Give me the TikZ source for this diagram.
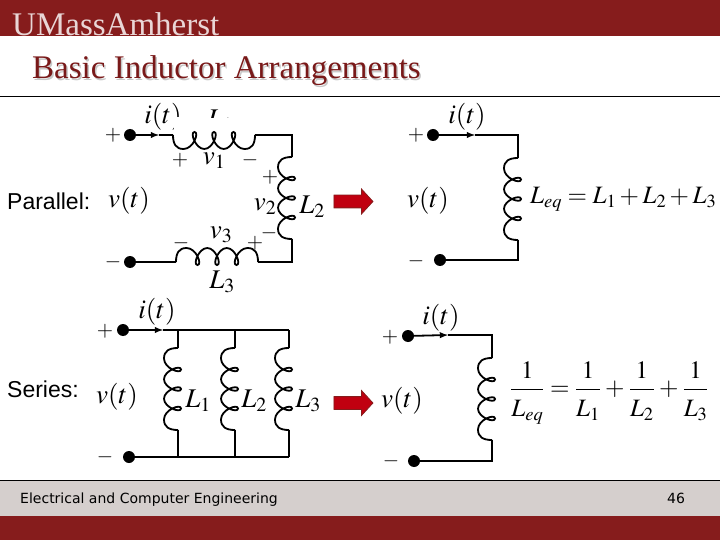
\documentclass[tikz,border=0pt]{standalone}
\usepackage{fontspec}
\usepackage{mathptmx}
\usepackage{xcolor}
\setmainfont{Liberation Serif}
\newfontfamily\armfont{Liberation Sans}
\newfontfamily\footfont{DejaVu Sans}
\usetikzlibrary{arrows,shapes.arrows}
\definecolor{umred}{HTML}{861C1C}
\definecolor{umgrey}{HTML}{D5CFCD}
\definecolor{arrred}{HTML}{C00010}
\newcommand{\rec}[1]{\frac{1}{\rule{0pt}{24pt}#1}}
\tikzset{
	wire/.style={line width=1.8pt},
	term/.style={circle,fill=black,inner sep=0pt,minimum size=12pt},
	lab/.style={inner sep=0pt,font=\fontsize{27}{30}\selectfont},
	eqn/.style={inner sep=0pt,anchor=west,font=\fontsize{25}{28}\selectfont},
	sgn/.style={inner sep=0pt,font=\fontsize{21}{24}\selectfont},
	kind/.style={inner sep=0pt,anchor=west,font=\armfont\fontsize{23}{26}\selectfont},
	foottext/.style={inner sep=0pt,anchor=base west,font=\footfont\fontsize{14}{16}\selectfont},
	titletext/.style={inner sep=0pt,anchor=base west,font=\fontsize{33}{36}\selectfont},
	bigarrow/.style={single arrow,draw=umred,fill=arrred,inner sep=0pt,inner ysep=6pt,line width=.8pt,
		minimum height=39pt,single arrow head extend=6pt,single arrow tip angle=95},
	coil/.pic={
		\draw[wire] (0,0) .. controls (0,9) and (3,14) .. (10.5,14)
			.. controls (20.5,14) and (26.5,-3) .. (21.5,-3)
			.. controls (16.5,-3) and (22.5,14) .. (31.25,14)
			.. controls (40,14) and (46,-3) .. (41,-3)
			.. controls (36,-3) and (42,14) .. (50.75,14)
			.. controls (59.5,14) and (65.5,-3) .. (60.5,-3)
			.. controls (55.5,-3) and (61.5,14) .. (71.5,14)
			.. controls (79,14) and (82,9) .. (82,0);
	}
}
\begin{document}
\begin{tikzpicture}[x=1pt,y=-1pt]
		\useasboundingbox (0,0) rectangle (720,540);
		% header and footer
		\fill[umred] (0,0) rectangle (720,36);
		\begin{scope}
			\clip (0,0) rectangle (720,36);
			\node[titletext,text=white!82!umred] (logo) at (12,36) {UMassAmherst};
		\end{scope}
		\node[titletext,text=black!22] (titleshade) at (33.5,80.5) {Basic Inductor Arrangements};
		\node[titletext,text=umred!90!black] (title) at (32,79) {Basic Inductor Arrangements};
		\draw[line width=.8pt] (0,96) -- (720,96);
		\fill[umgrey] (0,480) rectangle (720,516);
		\fill[umred] (0,516) rectangle (720,540);
		\draw[line width=.8pt] (0,480) -- (720,480);
		\node[foottext] (foot) at (20,503) {Electrical and Computer Engineering};
		\node[foottext] (page) at (667,503) {46};
		%
		\node[kind] (par) at (7,201) {Parallel:};
		\node[kind] (ser) at (7,389) {Series:};
		\node[bigarrow] (arrA) at (350.5,201.5) {};
		\node[bigarrow] (arrB) at (350.5,403) {};
		% series circuit, top left
		\node[term] (Ap) at (130,135) {};
		\node[term] (Am) at (130,262) {};
		\coordinate (Aa) at (159,135);
		\coordinate (A1) at (173,135);
		\coordinate (A1') at (255,135);
		\coordinate (Ac) at (292,135);
		\coordinate (A2) at (292,157);
		\coordinate (A2') at (292,239);
		\coordinate (Ad) at (292,262);
		\coordinate (A3) at (258,262);
		\coordinate (A3') at (176,262);
		\draw[wire,-latex] (Ap) -- (Aa);
		\draw[wire] (Aa) -- (A1);
		\draw[wire] (A1') -- (Ac) -- (A2);
		\draw[wire] (A2') -- (Ad) -- (A3);
		\draw[wire] (A3') -- (Am);
		\pic at (A1) {coil};
		\pic[rotate=-90] at (A2) {coil};
		\pic[rotate=180] at (A3) {coil};
		\node[sgn] (Aps) at (113,135) {$+$};
		\node[sgn] (Ams) at (113,262) {$-$};
		\node[lab] (Ai) at (163,117) {$i(t)$};
		\fill[white] (174,117) rectangle (186,130);
		\node[lab] (Av) at (129,201) {$v(t)$};
		\begin{scope}
			\clip (200,105) rectangle (232,118);
			\node[lab] (AL1) at (220,121) {$L_1$};
		\end{scope}
		\node[sgn] (v1p) at (180,160) {$+$};
		\node[lab] (v1) at (214,161) {$v_1$};
		\node[sgn] (v1m) at (250,160) {$-$};
		\node[sgn] (v2p) at (270,177) {$+$};
		\node[lab] (v2) at (265,207) {$v_2$};
		\node[sgn] (v2m) at (269,233) {$-$};
		\node[lab] (AL2) at (312,207) {$L_2$};
		\node[sgn] (v3m) at (181,243) {$-$};
		\node[lab] (v3) at (221,235) {$v_3$};
		\node[sgn] (v3p) at (255,243) {$+$};
		\node[lab] (AL3) at (222,282) {$L_3$};
		% its equivalent
		\node[term] (Bp) at (433,135) {};
		\node[term] (Bm) at (440,260) {};
		\coordinate (Ba) at (475,135);
		\coordinate (Bc) at (518,135);
		\coordinate (B1) at (518,158);
		\coordinate (B1') at (518,240);
		\coordinate (Bd) at (518,260);
		\draw[wire,-latex] (Bp) -- (Ba);
		\draw[wire] (Ba) -- (Bc) -- (B1);
		\draw[wire] (B1') -- (Bd) -- (Bm);
		\pic[rotate=-90] at (B1) {coil};
		\node[sgn] (Bps) at (416,135) {$+$};
		\node[sgn] (Bms) at (416,261) {$-$};
		\node[lab] (Bi) at (467,117) {$i(t)$};
		\node[lab] (Bv) at (428,201) {$v(t)$};
		\node[eqn] (Beq) at (530,199) {$L_{eq}=L_1+L_2+L_3$};
		% parallel circuit, bottom left
		\node[term] (Cp) at (123,330) {};
		\node[term] (Cm) at (129,457) {};
		\coordinate (Ca) at (163,330);
		\foreach \n/\xx in {1/178,2/235,3/289}{
			\coordinate (Ct\n) at (\xx,330);
			\coordinate (C\n) at (\xx,348);
			\coordinate (C\n') at (\xx,430);
			\coordinate (Cb\n) at (\xx,457);
			\draw[wire] (Ct\n) -- (C\n);
			\draw[wire] (C\n') -- (Cb\n);
			\pic[rotate=-90] at (C\n) {coil};
		}
		\draw[wire,-latex] (Cp) -- (Ca);
		\draw[wire] (Ca) -- (Ct3);
		\draw[wire] (Cm) -- (Cb3);
		\node[sgn] (Cps) at (105,331) {$+$};
		\node[sgn] (Cms) at (105,457) {$-$};
		\node[lab] (Ci) at (157,312) {$i(t)$};
		\node[lab] (Cv) at (117,397) {$v(t)$};
		\node[lab] (CL1) at (198,401) {$L_1$};
		\node[lab] (CL2) at (254,401) {$L_2$};
		\node[lab] (CL3) at (308,401) {$L_3$};
		% its equivalent
		\node[term] (Dp) at (408,336) {};
		\node[term] (Dm) at (414,461) {};
		\coordinate (Da) at (448,335);
		\coordinate (Dc) at (492,335);
		\coordinate (D1) at (492,358);
		\coordinate (D1') at (492,440);
		\coordinate (Dd) at (492,461);
		\draw[wire,-latex] (Dp) -- (Da);
		\draw[wire] (Da) -- (Dc) -- (D1);
		\draw[wire] (D1') -- (Dd) -- (Dm);
		\pic[rotate=-90] at (D1) {coil};
		\node[sgn] (Dps) at (390,337) {$+$};
		\node[sgn] (Dms) at (391,461) {$-$};
		\node[lab] (Di) at (441,318) {$i(t)$};
		\node[lab] (Dv) at (402,401) {$v(t)$};
		\node[eqn] (Deq) at (510,393) {\thickmuskip=4mu\medmuskip=3mu$\displaystyle\rec{L_{eq}}=\rec{L_1}+\rec{L_2}+\rec{L_3}$};
	\end{tikzpicture}
\end{document}
